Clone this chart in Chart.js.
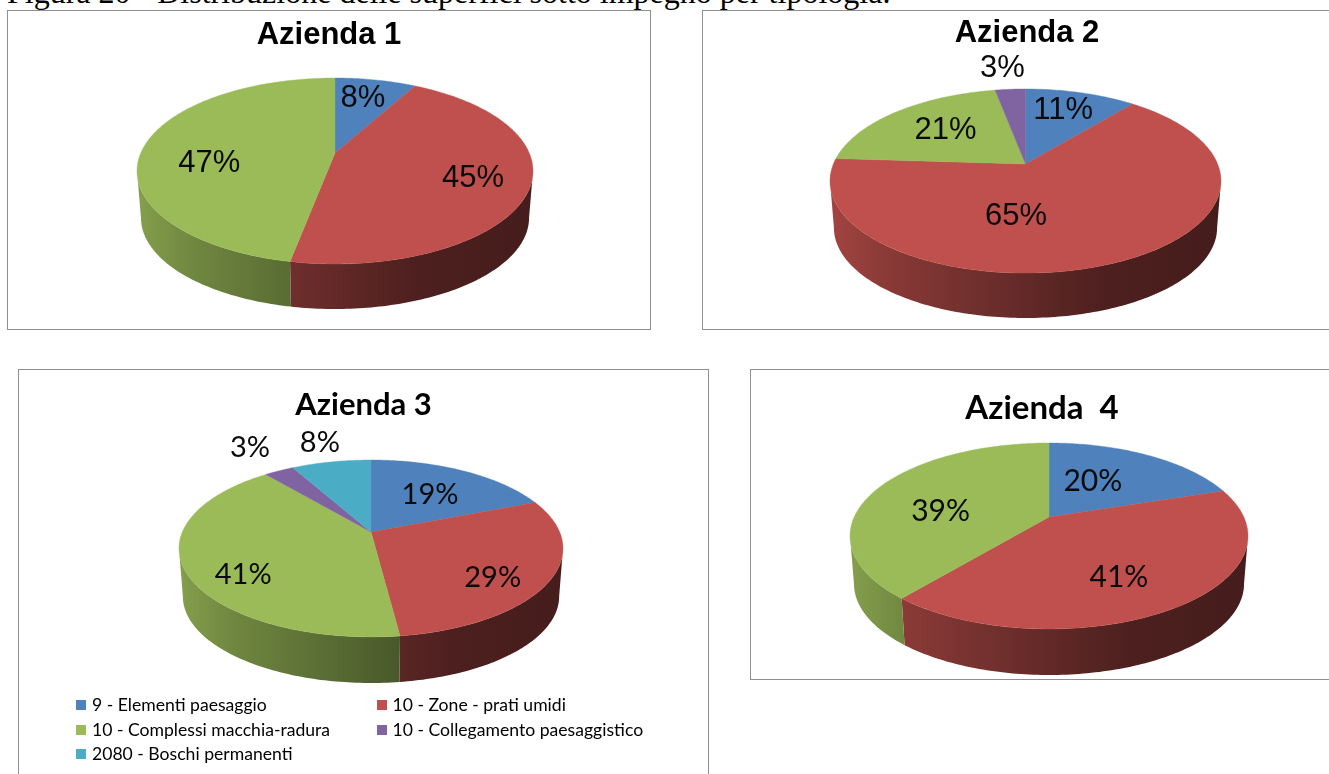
<!DOCTYPE html>
<html lang="it">
<head>
<meta charset="utf-8">
<title>Figura 20</title>
<script src="https://cdn.jsdelivr.net/npm/chart.js@4"></script>
<style>
   html, body { margin: 0; padding: 0; background: #fff; }
   body { position: relative; width: 1329px; height: 774px; overflow: hidden; }
   #caption { position: absolute; left: 7px; top: -24px; font: 32px/32px "Liberation Serif", serif; color: #000; white-space: nowrap; }
   .panel { position: absolute; box-sizing: border-box; border: 1px solid #8f8f8f; background: #fff; }
   .panel canvas { position: absolute; left: -1px; top: -1px; }
   #legend { position: absolute; left: 0; top: 0; font: 17.6px Lato, sans-serif; color: #000; }
   #legend div { position: absolute; white-space: nowrap; line-height: 18px; }
   #legend i { position: absolute; width: 10px; height: 10px; }
</style>
</head>
<body>
<div id="caption">Figura 20 - Distribuzione delle superfici sotto impegno per tipologia.</div>
<div id="legend"></div>
<script>
const categories = ['9 - Elementi paesaggio', '10 - Zone - prati umidi', '10 - Complessi macchia-radura', '10 - Collegamento paesaggistico', '2080 - Boschi permanenti'];
const sliceColors = ['#4f81bd', '#c0504d', '#9bbb59', '#8064a2', '#4bacc6'];
const titles = ['Azienda 1', 'Azienda 2', 'Azienda 3', 'Azienda  4'];

const azienda1 = [8, 45, 47];
const azienda2 = [11, 65, 21, 3];
const azienda3 = [19, 29, 41, 3, 8];
const azienda4 = [20, 41, 39];

// flattened 3D look: k is the perspective strength, apexY the point where the slices meet
const panels = [
   { id: 'p1', box: [7, 10, 644, 320], values: azienda1, font: '"Liberation Sans"', titleSize: 31, titlePad: 7, labelSize: 31,
     cx: 335, apexY: 153, rx: 198, ry: 89.5, k: 0.1935, wallBottom: 309,
     nudge: [[-2, -1], [4, 3], [8, 16]] },
   { id: 'p2', box: [702, 10, 650, 320], values: azienda2, font: '"Liberation Sans"', titleSize: 31, titlePad: 5, labelSize: 31,
     cx: 1025.5, apexY: 164, rx: 195.5, ry: 88.9, k: 0.185, wallBottom: 318,
     nudge: [[-3, -1], [-70, -12], [13, 4], [-12, -41]] },
   { id: 'p3', box: [18, 369, 691, 425], values: azienda3, font: 'Lato', titleSize: 31, titlePad: 17, labelSize: 29,
     cx: 371, apexY: 532, rx: 192, ry: 85.4, k: 0.186, wallBottom: 683,
     nudge: [[-8, 7], [0, 13], [0, 18], [-54, -40], [-22, -38]] },
   { id: 'p4', box: [750, 369, 584, 311], values: azienda4, font: 'Lato', titleSize: 33, titlePad: 20, labelSize: 30,
     cx: 1049, apexY: 517, rx: 199, ry: 89.1, k: 0.204, wallBottom: 675,
     nudge: [[-28, 10], [-17, 2], [14, 14]] }
];

const legendSpots = [[76, 705], [376.5, 705], [76, 730], [376.5, 730], [76, 754]];

function shade(hex, f){
   const n = parseInt(hex.slice(1), 16);
   return 'rgb(' + Math.round((n >> 16 & 255) * f) + ',' + Math.round((n >> 8 & 255) * f) + ',' + Math.round((n & 255) * f) + ')';
}

function wallGradient(ctx, p, color){
   const g = ctx.createLinearGradient(p.cx - p.rx, 0, p.cx + p.rx, 0);
   g.addColorStop(0, shade(color, 0.85));
   g.addColorStop(0.14, shade(color, 0.72));
   g.addColorStop(0.4, shade(color, 0.57));
   g.addColorStop(0.7, shade(color, 0.4));
   g.addColorStop(1, shade(color, 0.36));
   return g;
}

// circle on the pie plane -> screen, r in 0..1, theta clockwise from 12 o'clock
function project(p, theta, r, scale, y0){
   const R = p.rx * Math.sqrt(1 - p.k * p.k) * scale;
   const u = r * Math.sin(theta);
   const v = -r * Math.cos(theta);
   const w = 1 - p.k * v;
   return { x: p.cx + R * u / w, y: y0 + p.ry * scale * v / w };
}

const pie3d = {
   id: 'pie3d',
   beforeDatasetDraw(chart, args, p){
      const ctx = chart.ctx;
      const arcs = chart.getDatasetMeta(0).data;
      const wallScale = 0.98;
      const wallY0 = p.wallBottom - wallScale * p.ry / (1 - p.k);
      const step = Math.PI / 180;
      // the wall only shows between the two widest points of the rim
      const frontStart = Math.acos(-p.k);
      const frontEnd = 2 * Math.PI - frontStart;

      ctx.save();
      ctx.translate(-p.box[0], -p.box[1]);

      // side wall
      arcs.forEach(arc => {
         const start = Math.max(arc.startAngle + Math.PI / 2, frontStart);
         const end = Math.min(arc.endAngle + Math.PI / 2, frontEnd);
         if(end <= start){
            return;
         }
         const angles = [];
         for(let a = start; a < end; a += step){
            angles.push(a);
         }
         angles.push(end);
         ctx.beginPath();
         angles.forEach((a, i) => {
            const pt = project(p, a, 1, 1, p.apexY);
            if(i == 0){
               ctx.moveTo(pt.x, pt.y);
            }
            else{
               ctx.lineTo(pt.x, pt.y);
            }
         });
         angles.slice().reverse().forEach(a => {
            const pt = project(p, a, 1, wallScale, wallY0);
            ctx.lineTo(pt.x, pt.y);
         });
         ctx.closePath();
         ctx.fillStyle = wallGradient(ctx, p, arc.options.backgroundColor);
         ctx.fill();
      });

      // top face
      arcs.forEach(arc => {
         const start = arc.startAngle + Math.PI / 2;
         const end = arc.endAngle + Math.PI / 2;
         ctx.beginPath();
         ctx.moveTo(p.cx, p.apexY);
         for(let a = start; a < end; a += step){
            const pt = project(p, a, 1, 1, p.apexY);
            ctx.lineTo(pt.x, pt.y);
         }
         const last = project(p, end, 1, 1, p.apexY);
         ctx.lineTo(last.x, last.y);
         ctx.closePath();
         ctx.fillStyle = arc.options.backgroundColor;
         ctx.strokeStyle = arc.options.backgroundColor;
         ctx.lineWidth = 0.4;
         ctx.fill();
         ctx.stroke();
      });

      // value labels
      ctx.fillStyle = '#0a0a0a';
      ctx.font = p.labelSize + 'px ' + p.font;
      ctx.textAlign = 'center';
      ctx.textBaseline = 'middle';
      arcs.forEach((arc, i) => {
         const mid = (arc.startAngle + arc.endAngle) / 2 + Math.PI / 2;
         const pt = project(p, mid, 0.7, 1, p.apexY);
         ctx.fillText(chart.data.datasets[0].data[i] + '%', pt.x + p.nudge[i][0], pt.y + p.nudge[i][1]);
      });

      ctx.restore();
      return false;
   }
};

function drawPanel(p, title){
   const div = document.createElement('div');
   div.className = 'panel';
   div.style.left = p.box[0] + 'px';
   div.style.top = p.box[1] + 'px';
   div.style.width = p.box[2] + 'px';
   div.style.height = p.box[3] + 'px';
   const canvas = document.createElement('canvas');
   canvas.id = p.id;
   canvas.width = p.box[2];
   canvas.height = p.box[3];
   div.appendChild(canvas);
   document.body.insertBefore(div, document.getElementById('legend'));

   return new Chart(canvas.getContext('2d'), {
      type: 'pie',
      data: {
         labels: categories.slice(0, p.values.length),
         datasets: [{
            data: p.values,
            backgroundColor: sliceColors.slice(0, p.values.length),
            borderWidth: 0
         }]
      },
      options: {
         responsive: false,
         animation: false,
         plugins: {
            legend: { display: false },
            tooltip: { enabled: false },
            title: {
               display: true,
               text: title,
               color: '#000',
               font: { family: p.font, size: p.titleSize, weight: 'bold' },
               padding: { top: p.titlePad, bottom: 0 }
            },
            pie3d: p
         }
      },
      plugins: [pie3d]
   });
}

function drawLegend(){
   const legend = document.getElementById('legend');
   categories.forEach((name, i) => {
      const [x, y] = legendSpots[i];
      const swatch = document.createElement('i');
      swatch.style.left = x + 'px';
      swatch.style.top = (y - 5) + 'px';
      swatch.style.background = sliceColors[i];
      legend.appendChild(swatch);
      const text = document.createElement('div');
      text.textContent = name;
      text.style.left = (x + 16) + 'px';
      text.style.top = (y - 9) + 'px';
      legend.appendChild(text);
   });
}

panels.forEach((p, i) => drawPanel(p, titles[i]));
drawLegend();
</script>
</body>
</html>
